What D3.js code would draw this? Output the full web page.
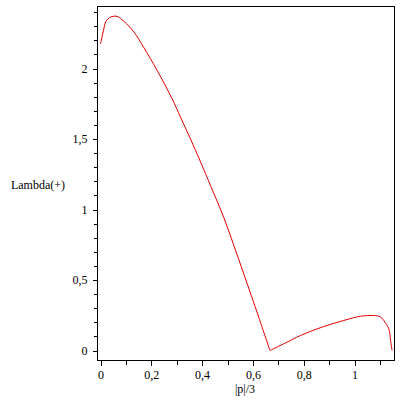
<!DOCTYPE html>
<html>
<head>
<meta charset="utf-8">
<script src="https://cdn.jsdelivr.net/npm/d3@7"></script>
<style>
  body { margin: 0; background: #fff; }
  svg { display: block; }
  text { font-family: "Liberation Serif", "DejaVu Serif", serif; font-size: 12px; fill: #000; }
</style>
</head>
<body>
<div id="chart"></div>
<script>
// curve
const pX = [0, 0.013, 0.02, 0.035, 0.05, 0.065, 0.092, 0.131, 0.17, 0.223, 0.282, 0.315, 0.354, 0.394, 0.433, 0.485, 0.524, 0.564, 0.623, 0.667, 0.73, 0.787, 0.879, 0.958, 1.024, 1.076, 1.1, 1.115, 1.135, 1.142, 1.148]
const pY = [2.175, 2.28, 2.33, 2.36, 2.37, 2.37, 2.335, 2.26, 2.15, 1.986, 1.785, 1.655, 1.501, 1.337, 1.17, 0.945, 0.75, 0.544, 0.236, 0.0, 0.055, 0.106, 0.17, 0.213, 0.243, 0.248, 0.24, 0.213, 0.154, 0.071, 0.0]
const kink = 19   // index of the corner at 2/3

const xMajor = [0, 0.2, 0.4, 0.6, 0.8, 1]
const xMinor = [0, 0.1, 0.2, 0.3, 0.4, 0.5, 0.6, 0.7, 0.8, 0.9, 1, 1.1]
const yMajor = [0, 0.5, 1, 1.5, 2]
const yMinor = [0, 0.1, 0.2, 0.3, 0.4, 0.5, 0.6, 0.7, 0.8, 0.9, 1, 1.1, 1.2, 1.3, 1.4, 1.5, 1.6, 1.7, 1.8, 1.9, 2, 2.1, 2.2, 2.3, 2.4]

const xLabel = '|p|/3'
const yLabel = 'Lambda(+)'

const width = 400
const height = 400
const boxL = 97.5
const boxR = 394.5
const boxT = 6.5
const boxB = 360.5

const xScale = d3.scaleLinear()
    .domain([0, 1])
    .range([100.5, 354.5])

const yScale = d3.scaleLinear()
    .domain([0, 1])
    .range([350.5, 209.5])

const fmt = d => String(d).replace('.', ',')

const svg = d3.select('#chart')
    .append('svg')
    .attr('width', width)
    .attr('height', height)

// frame
svg.append('rect')
    .attr('x', boxL)
    .attr('y', boxT)
    .attr('width', boxR - boxL)
    .attr('height', boxB - boxT)
    .attr('fill', 'none')
    .attr('stroke', '#000')
    .attr('shape-rendering', 'crispEdges')

// x axis
svg.append('g')
    .attr('transform', 'translate(0,' + boxB + ')')
    .call(d3.axisBottom(xScale).tickValues(xMinor).tickSize(4).tickSizeOuter(0).tickFormat(''))
svg.append('g')
    .attr('transform', 'translate(0,' + boxB + ')')
    .call(d3.axisBottom(xScale).tickValues(xMajor).tickSize(5).tickSizeOuter(0).tickPadding(5).tickFormat(fmt))

// y axis
svg.append('g')
    .attr('transform', 'translate(' + boxL + ',0)')
    .call(d3.axisLeft(yScale).tickValues(yMinor).tickSize(4).tickSizeOuter(0).tickFormat(''))
svg.append('g')
    .attr('transform', 'translate(' + boxL + ',0)')
    .call(d3.axisLeft(yScale).tickValues(yMajor).tickSize(5).tickSizeOuter(0).tickPadding(5).tickFormat(fmt))

svg.selectAll('.domain').remove()
svg.selectAll('.tick line').attr('shape-rendering', 'crispEdges')
svg.selectAll('.tick text')
    .style('font-family', '"Liberation Serif", serif')
    .style('font-size', '12px')

// axis titles
svg.append('text')
    .attr('x', 245)
    .attr('y', 393)
    .attr('text-anchor', 'middle')
    .text(xLabel)

svg.append('text')
    .attr('x', 38)
    .attr('y', 189)
    .attr('text-anchor', 'middle')
    .text(yLabel)

// curve, two smooth pieces meeting at the corner
const line = d3.line()
    .x(i => xScale(pX[i]))
    .y(i => yScale(pY[i]))
    .curve(d3.curveCatmullRom)

const pieces = [d3.range(0, kink + 1), d3.range(kink, pX.length)]

svg.selectAll('path.curve')
    .data(pieces)
    .enter()
    .append('path')
    .attr('class', 'curve')
    .attr('d', line)
    .attr('fill', 'none')
    .attr('stroke', '#e00000')
    .attr('stroke-width', 1)
</script>
</body>
</html>
